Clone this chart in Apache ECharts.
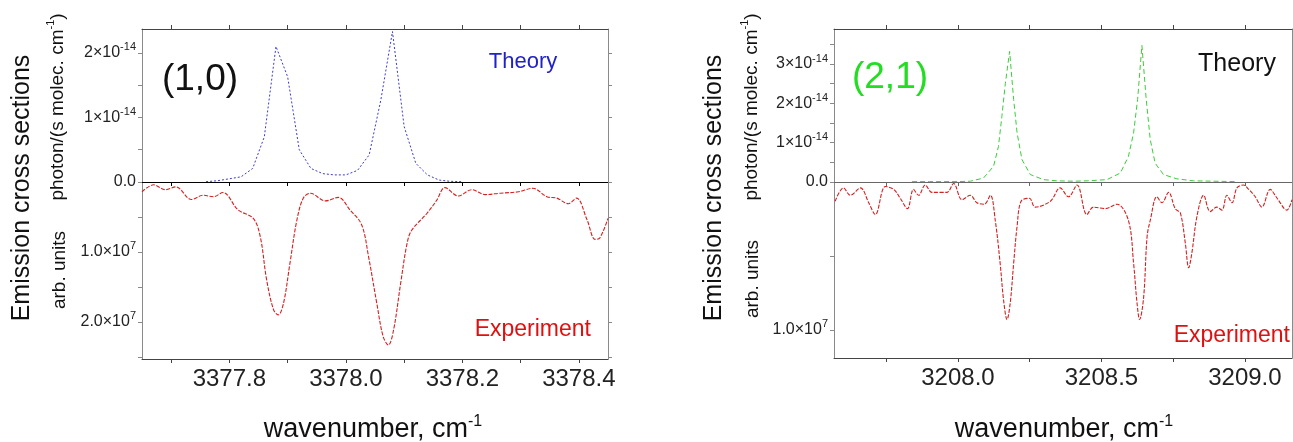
<!DOCTYPE html>
<html><head><meta charset="utf-8">
<script src="https://cdn.jsdelivr.net/npm/echarts@6/dist/echarts.min.js"></script>
<style>html,body{margin:0;padding:0;background:#fff}#c{width:1293px;height:442px}</style>
</head><body><div id="c"></div>
<script>
const FONT = "'Liberation Sans', Arial, sans-serif";

// ---------- (1,0) band: theory (units 1e-14) ----------
const LT_X = [3377.76, 3377.78, 3377.80, 3377.82, 3377.84, 3377.86, 3377.88, 3377.90, 3377.92, 3377.94, 3377.96, 3377.98, 3378.00, 3378.02, 3378.04, 3378.06, 3378.08, 3378.10, 3378.12, 3378.14, 3378.16, 3378.18, 3378.20];
const LT_Y = [0.005, 0.02, 0.05, 0.08, 0.21, 0.70, 2.10, 1.63, 0.50, 0.21, 0.13, 0.11, 0.11, 0.18, 0.42, 1.27, 2.33, 0.86, 0.29, 0.11, 0.03, 0.01, 0.005];

// ---------- (1,0) band: experiment (units 1e7, plotted downward) ----------
const LE_X = [3377.650, 3377.670, 3377.690, 3377.708, 3377.735, 3377.755, 3377.773, 3377.789, 3377.815, 3377.841, 3377.853, 3377.864, 3377.876, 3377.884, 3377.893, 3377.904, 3377.916, 3377.927, 3377.939, 3377.965, 3377.987, 3378.007, 3378.027, 3378.039, 3378.053, 3378.064, 3378.073, 3378.082, 3378.094, 3378.105, 3378.113, 3378.139, 3378.156, 3378.170, 3378.193, 3378.216, 3378.239, 3378.265, 3378.296, 3378.321, 3378.345, 3378.362, 3378.382, 3378.396, 3378.414, 3378.428, 3378.436, 3378.450];
const LE_Y = [0.14, 0.04, 0.11, 0.07, 0.25, 0.19, 0.21, 0.15, 0.40, 0.52, 0.78, 1.40, 1.83, 1.90, 1.73, 1.16, 0.54, 0.23, 0.16, 0.27, 0.22, 0.40, 0.61, 1.07, 1.73, 2.21, 2.33, 2.11, 1.45, 0.88, 0.69, 0.45, 0.26, 0.08, 0.20, 0.11, 0.18, 0.16, 0.14, 0.09, 0.21, 0.23, 0.31, 0.23, 0.54, 0.82, 0.80, 0.52];

// ---------- (2,1) band: theory (units 1e-14) ----------
const RT_X = [3207.84, 3207.90, 3207.95, 3208.00, 3208.043, 3208.089, 3208.124, 3208.141, 3208.153, 3208.165, 3208.180, 3208.194, 3208.206, 3208.223, 3208.252, 3208.298, 3208.345, 3208.40, 3208.45, 3208.519, 3208.566, 3208.594, 3208.612, 3208.626, 3208.641, 3208.656, 3208.670, 3208.687, 3208.716, 3208.763, 3208.821, 3208.890, 3208.97];
const RT_Y = [0.01, 0.01, 0.01, 0.01, 0.02, 0.10, 0.40, 0.90, 1.67, 2.50, 3.32, 2.10, 1.25, 0.57, 0.19, 0.06, 0.03, 0.02, 0.03, 0.06, 0.23, 0.65, 1.25, 2.10, 3.47, 2.10, 1.08, 0.48, 0.19, 0.08, 0.03, 0.02, 0.01];

// ---------- (2,1) band: experiment (units 1e7, plotted downward) ----------
const RE_X = [3207.572, 3207.601, 3207.625, 3207.660, 3207.689, 3207.712, 3207.747, 3207.776, 3207.799, 3207.824, 3207.845, 3207.863, 3207.886, 3207.909, 3207.938, 3207.962, 3207.985, 3208.014, 3208.043, 3208.066, 3208.092, 3208.113, 3208.130, 3208.147, 3208.159, 3208.171, 3208.182, 3208.194, 3208.206, 3208.220, 3208.249, 3208.269, 3208.322, 3208.356, 3208.385, 3208.415, 3208.449, 3208.472, 3208.513, 3208.554, 3208.594, 3208.612, 3208.624, 3208.633, 3208.647, 3208.659, 3208.670, 3208.693, 3208.711, 3208.734, 3208.757, 3208.775, 3208.792, 3208.804, 3208.815, 3208.833, 3208.856, 3208.879, 3208.902, 3208.920, 3208.937, 3208.955, 3208.972, 3208.995, 3209.013, 3209.036, 3209.059, 3209.088, 3209.112, 3209.146, 3209.164];
const RE_Y = [0.13, 0.04, 0.09, 0.04, 0.14, 0.22, 0.03, 0.05, 0.11, 0.18, 0.05, 0.09, 0.02, 0.07, 0.07, 0.07, 0.01, 0.12, 0.09, 0.14, 0.15, 0.09, 0.26, 0.55, 0.80, 0.93, 0.82, 0.55, 0.30, 0.13, 0.11, 0.17, 0.13, 0.04, 0.10, 0.02, 0.22, 0.17, 0.18, 0.15, 0.26, 0.55, 0.82, 0.93, 0.78, 0.37, 0.26, 0.10, 0.14, 0.07, 0.18, 0.21, 0.41, 0.58, 0.48, 0.23, 0.09, 0.20, 0.17, 0.19, 0.09, 0.14, 0.04, 0.02, 0.05, 0.10, 0.17, 0.05, 0.11, 0.19, 0.12];

// ---------- ticks ----------
const LX_LABELS = [3377.8, 3378.0, 3378.2, 3378.4];
const LX_TICKS = [3377.7, 3377.8, 3377.9, 3378.0, 3378.1, 3378.2, 3378.3, 3378.4];
const RX_LABELS = [3208.0, 3208.5, 3209.0];
const RX_TICKS = [3207.75, 3208.0, 3208.25, 3208.5, 3208.75, 3209.0];
const LTY_LABELS = [0, 1, 2];            // x 1e-14
const LTY_TICKS = [0, 0.5, 1, 1.5, 2];
const LEY_LABELS = [1, 2];               // x 1e7
const LEY_TICKS = [0.5, 1, 1.5, 2, 2.5];
const RTY_LABELS = [0, 1, 2, 3];         // x 1e-14
const RTY_TICKS = [0, 0.5, 1, 1.5, 2, 2.5, 3, 3.5];
const REY_LABELS = [1];                  // x 1e7
const REY_TICKS = [0.5, 1];

const zip = (xs, ys) => xs.map((x, i) => [x, ys[i]]);

const richY = {
  b: {fontSize: 16, lineHeight: 22, color: '#222', fontFamily: FONT},
  s: {fontSize: 11, lineHeight: 11, verticalAlign: 'top', color: '#222', fontFamily: FONT}
};
const fmtTheory = v => Math.abs(v) < 1e-9 ? '{b|0.0}' : '{b|' + Math.round(v) + '×10}{s|-14}';
const fmtExp = v => '{b|' + v.toFixed(1) + '×10}{s|7}';

const G = [
  {left: 142, top: 29, width: 466, height: 153},
  {left: 142, top: 182, width: 466, height: 177},
  {left: 834, top: 29, width: 458, height: 153},
  {left: 834, top: 182, width: 458, height: 176}
].map(g => Object.assign({containLabel: false, outerBoundsMode: 'none'}, g));

function xAx(grid, pos, min, max, ticks, labels, lineColor) {
  return {
    type: 'value', gridIndex: grid, position: pos, min: min, max: max,
    axisLine: {show: true, onZero: false, lineStyle: {color: lineColor, width: 1}},
    axisTick: {show: true, inside: false, length: 4, customValues: ticks, lineStyle: {color: lineColor}},
    axisLabel: labels ? {show: true, customValues: labels, margin: 8, fontSize: 24, color: '#222', fontFamily: FONT,
      formatter: v => v.toFixed(1)} : {show: false},
    splitLine: {show: false}
  };
}
function yAx(grid, pos, min, max, inverse, ticks, labels, fmt) {
  return {
    type: 'value', gridIndex: grid, position: pos, min: min, max: max, inverse: inverse,
    axisLine: {show: true, onZero: false, lineStyle: {color: '#8a8a8a', width: 1}},
    axisTick: {show: true, inside: false, length: 4, customValues: ticks, lineStyle: {color: '#8a8a8a'}},
    axisLabel: labels ? {show: true, customValues: labels, margin: 6, formatter: fmt, rich: richY, fontFamily: FONT} : {show: false},
    splitLine: {show: false}
  };
}

const LXMIN = 3377.65, LXMAX = 3378.45, RXMIN = 3207.568, RXMAX = 3209.164;

const xAxis = [
  xAx(0, 'bottom', LXMIN, LXMAX, LX_TICKS, null, '#000'),
  xAx(0, 'top', LXMIN, LXMAX, LX_TICKS, null, '#444'),
  xAx(1, 'bottom', LXMIN, LXMAX, LX_TICKS, LX_LABELS, '#444'),
  xAx(2, 'bottom', RXMIN, RXMAX, RX_TICKS, null, '#666'),
  xAx(2, 'top', RXMIN, RXMAX, RX_TICKS, null, '#444'),
  xAx(3, 'bottom', RXMIN, RXMAX, RX_TICKS, RX_LABELS, '#444')
];
const yAxis = [
  yAx(0, 'left', 0, 2.37, false, LTY_TICKS, LTY_LABELS, fmtTheory),
  yAx(0, 'right', 0, 2.37, false, LTY_TICKS, null),
  yAx(1, 'left', 0, 2.53, true, LEY_TICKS, LEY_LABELS, fmtExp),
  yAx(1, 'right', 0, 2.53, true, LEY_TICKS, null),
  yAx(2, 'left', 0, 3.89, false, RTY_TICKS, RTY_LABELS, fmtTheory),
  yAx(2, 'right', 0, 3.89, false, RTY_TICKS, null),
  yAx(3, 'left', 0, 1.19, true, REY_TICKS, REY_LABELS, fmtExp),
  yAx(3, 'right', 0, 1.19, true, REY_TICKS, null)
];

const series = [
  {type: 'line', xAxisIndex: 0, yAxisIndex: 0, data: zip(LT_X, LT_Y), showSymbol: false, silent: true,
    lineStyle: {color: '#3b3bd0', width: 1, type: [2, 2]}},
  {type: 'line', xAxisIndex: 2, yAxisIndex: 2, data: zip(LE_X, LE_Y), showSymbol: false, silent: true, smooth: 0.35,
    lineStyle: {color: '#d42020', width: 1.1, type: [4, 1.5]}},
  {type: 'line', xAxisIndex: 3, yAxisIndex: 4, data: zip(RT_X, RT_Y), showSymbol: false, silent: true,
    lineStyle: {color: '#3ccc3c', width: 1, type: [5, 3]}},
  {type: 'line', xAxisIndex: 5, yAxisIndex: 6, data: zip(RE_X, RE_Y), showSymbol: false, silent: true, smooth: 0.35,
    lineStyle: {color: '#d42020', width: 1.1, type: [4, 1.5]}}
];

const supRich = (size, color) => ({
  m: {fontSize: size, lineHeight: size + 6, color: color, fontFamily: FONT},
  p: {fontSize: Math.round(size * 0.6), lineHeight: Math.round(size * 0.6), verticalAlign: 'top', color: color, fontFamily: FONT}
});
function txt(x, y, text, size, color, rot, align, rich) {
  return {
    type: 'text', x: x, y: y, rotation: rot || 0, silent: true,
    style: {text: text, fontSize: size, fill: color, fontFamily: FONT, align: align || 'center', verticalAlign: 'middle', rich: rich}
  };
}
const R90 = Math.PI / 2;
const graphic = [
  txt(22, 188, 'Emission cross sections', 25, '#111', R90),
  txt(714, 188, 'Emission cross sections', 25, '#111', R90),
  txt(58, 107, '{m|photon/(s molec. cm}{p|-1}{m|)}', 19, '#111', R90, 'center', supRich(19, '#111')),
  txt(752, 107, '{m|photon/(s molec. cm}{p|-1}{m|)}', 19, '#111', R90, 'center', supRich(19, '#111')),
  txt(60, 270, 'arb. units', 19, '#111', R90),
  txt(753, 279, 'arb. units', 19, '#111', R90),
  txt(373, 430, '{m|wavenumber, cm}{p|-1}', 27, '#111', 0, 'center', supRich(27, '#111')),
  txt(1064, 430, '{m|wavenumber, cm}{p|-1}', 27, '#111', 0, 'center', supRich(27, '#111')),
  txt(200, 80, '(1,0)', 37, '#111'),
  txt(890, 78, '(2,1)', 37, '#22dd22'),
  txt(523, 62, 'Theory', 22, '#2020cc'),
  txt(1237, 64, 'Theory', 25, '#111'),
  txt(591, 330, 'Experiment', 23, '#e01010', 0, 'right'),
  txt(1290, 336, 'Experiment', 23, '#e01010', 0, 'right')
];

const chart = echarts.init(document.getElementById('c'), null, {renderer: 'canvas'});
chart.setOption({
  animation: false,
  backgroundColor: '#fff',
  grid: G, xAxis: xAxis, yAxis: yAxis, series: series, graphic: graphic
});
</script></body></html>
